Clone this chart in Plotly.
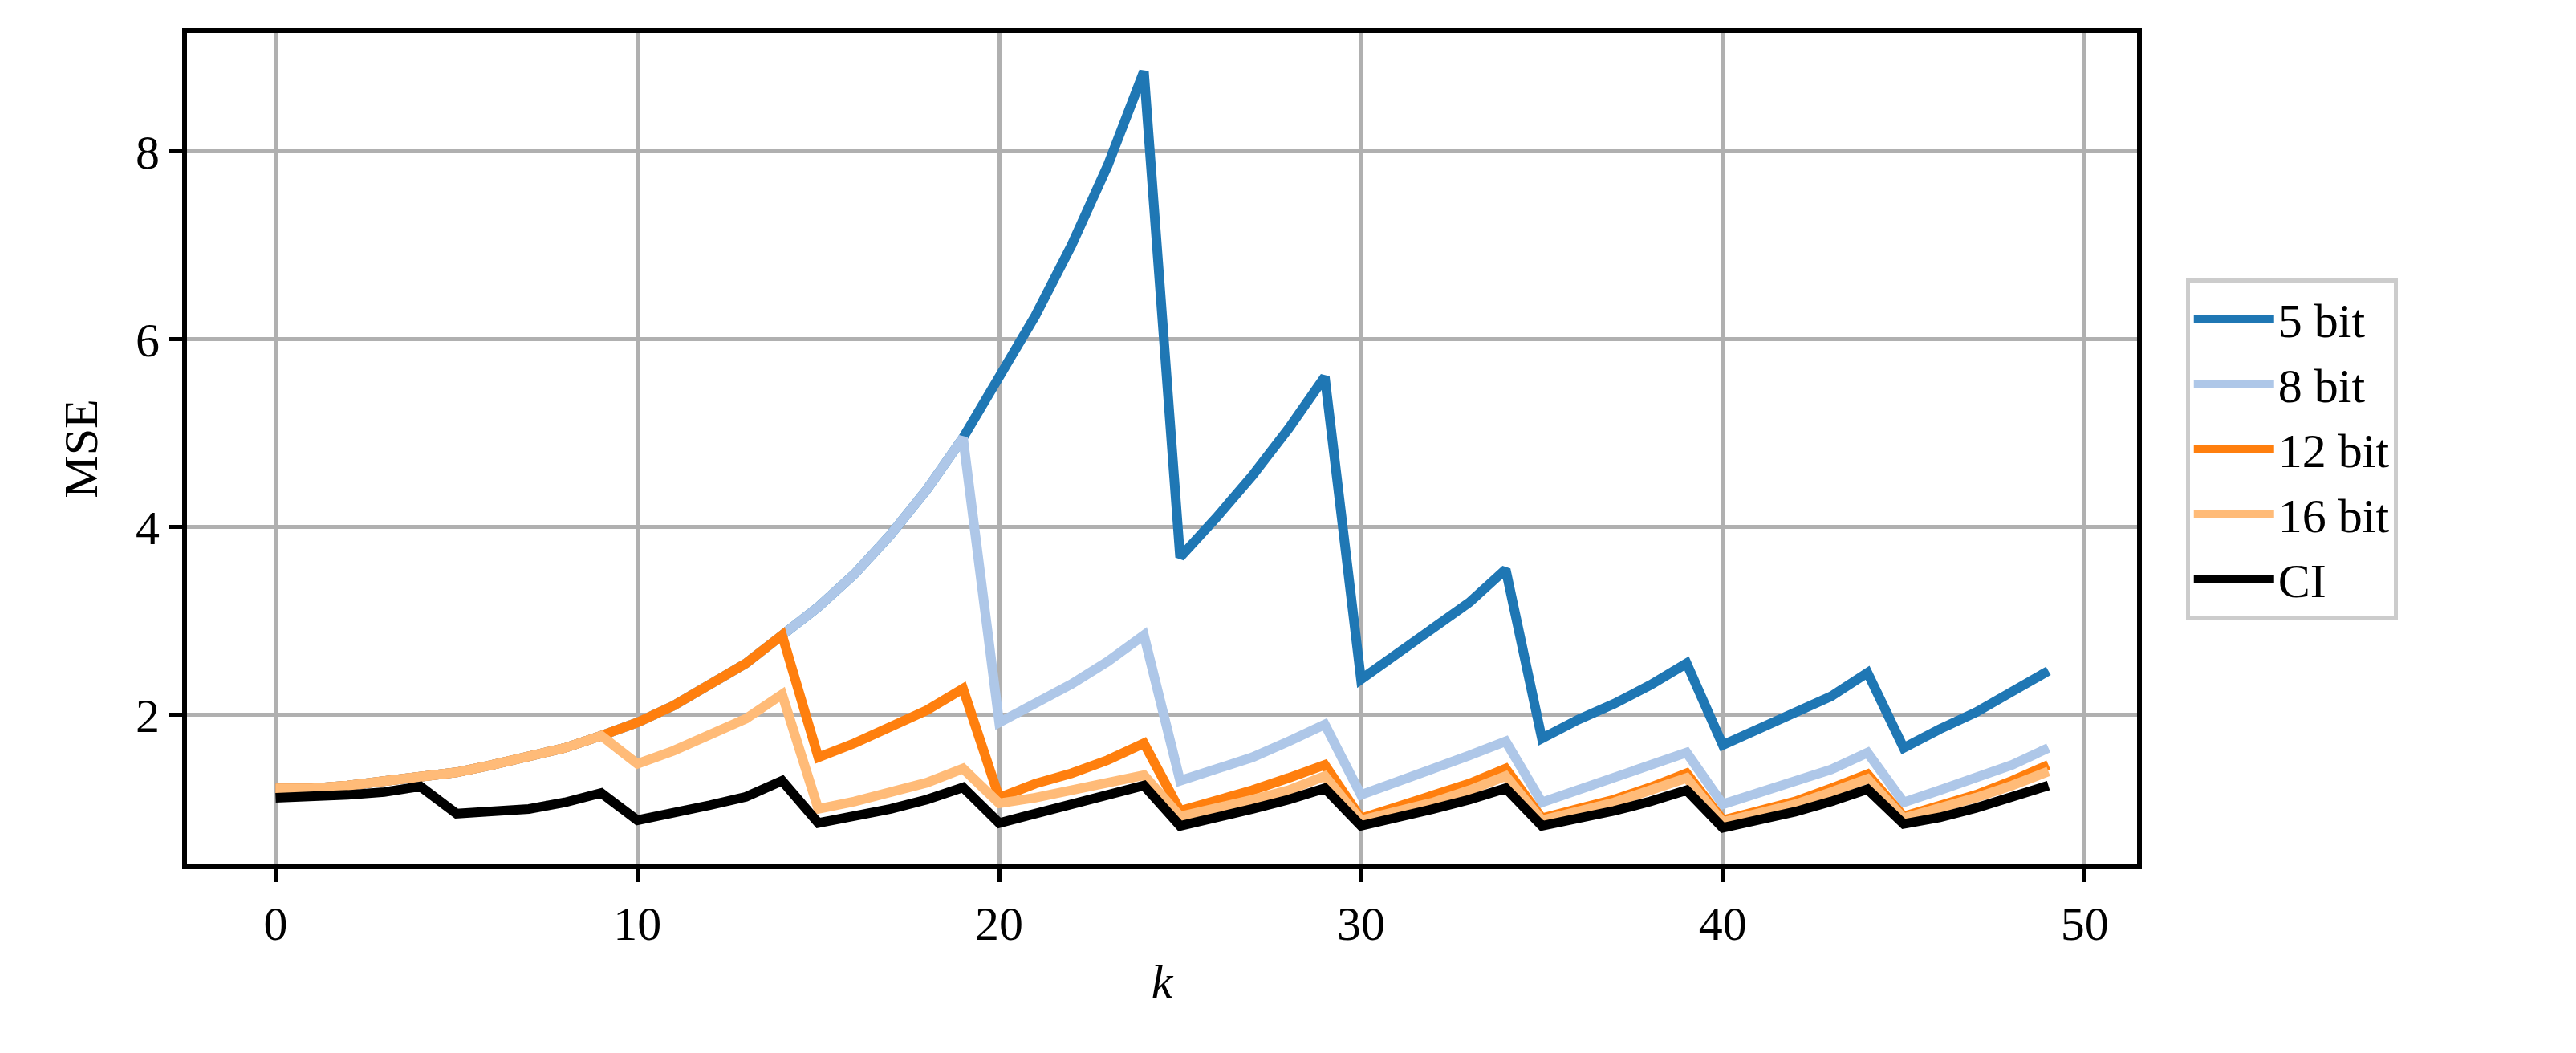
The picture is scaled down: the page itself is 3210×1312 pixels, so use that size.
import plotly.graph_objects as go

k = list(range(50))
ci = [1.12,1.13,1.15,1.18,1.24, 0.95,0.97,1.00,1.07,1.17,
      0.88,0.95,1.04,1.13,1.30, 0.85,0.92,1.00,1.10,1.23,
      0.85,0.95,1.04,1.13,1.25, 0.82,0.90,1.00,1.10,1.22,
      0.82,0.90,1.00,1.10,1.22, 0.82,0.89,0.98,1.08,1.20,
      0.80,0.88,0.97,1.08,1.21, 0.84,0.91,1.01,1.12,1.25]
b16 = [1.22,1.22,1.25,1.29,1.35, 1.39,1.47,1.55,1.65,1.78,
       1.48,1.62,1.78,1.96,2.22, 1.00,1.08,1.17,1.28,1.43,
       1.06,1.12,1.20,1.28,1.36, 0.92,1.00,1.10,1.20,1.35,
       0.88,0.97,1.07,1.20,1.35, 0.88,0.97,1.07,1.20,1.33,
       0.86,0.95,1.05,1.18,1.32, 0.90,1.00,1.12,1.25,1.40]
b12 = b16[:10] + [
       1.92,2.10,2.32,2.55,2.85, 1.55,1.70,1.87,2.05,2.28,
       1.12,1.27,1.38,1.52,1.70, 0.98,1.08,1.20,1.33,1.47,
       0.90,1.02,1.13,1.27,1.43, 0.90,1.00,1.10,1.23,1.38,
       0.88,0.98,1.08,1.22,1.37, 0.92,1.03,1.15,1.30,1.47]
b8 = b12[:15] + [
       3.15,3.50,3.92,4.40,4.95, 1.92,2.12,2.33,2.57,2.85,
       1.30,1.42,1.55,1.72,1.90, 1.15,1.30,1.43,1.57,1.72,
       1.07,1.20,1.32,1.47,1.60, 1.05,1.17,1.28,1.42,1.60,
       1.07,1.20,1.33,1.47,1.65]
b5 = b8[:20] + [
       5.60,6.25,7.00,7.85,8.85, 3.68,4.10,4.55,5.05,5.60,
       2.38,2.65,2.90,3.20,3.55, 1.75,1.95,2.12,2.32,2.55,
       1.68,1.85,2.02,2.20,2.45, 1.65,1.85,2.03,2.25,2.47]

series = [("5 bit", b5, "#1f77b4"), ("8 bit", b8, "#aec7e8"),
          ("12 bit", b12, "#ff7f0e"), ("16 bit", b16, "#ffbb78"),
          ("CI", ci, "#000000")]

fig = go.Figure()
for name, y, c in series:
    fig.add_trace(go.Scatter(x=k, y=y, mode="lines", name=name,
                             line=dict(color=c, width=12)))

font = dict(family="Liberation Serif, DejaVu Serif, serif", size=60, color="black")
ax = dict(showline=True, linecolor="black", linewidth=6, mirror=True,
          showgrid=True, gridcolor="#b0b0b0", gridwidth=5, zeroline=False,
          ticks="outside", ticklen=16, tickwidth=5, tickcolor="black",
          tickfont=font)
fig.update_layout(
    width=3210, height=1312, paper_bgcolor="white", plot_bgcolor="white",
    font=font,
    margin=dict(l=225, r=555, t=33, b=243),
    xaxis=dict(ax, range=[-2.45, 51.45], tickvals=[0,10,20,30,40,50],
               title=dict(text="<i>k</i>", font=font, standoff=20)),
    yaxis=dict(ax, range=[0.41, 9.26], tickvals=[2,4,6,8],
               title=dict(text="MSE", font=font, standoff=30)),
    legend=dict(x=1.025, y=0.5, xanchor="left", yanchor="middle",
                bordercolor="#cccccc", borderwidth=5, bgcolor="white",
                font=font, itemwidth=100, tracegroupgap=20),
)
fig.write_html("out.html")
